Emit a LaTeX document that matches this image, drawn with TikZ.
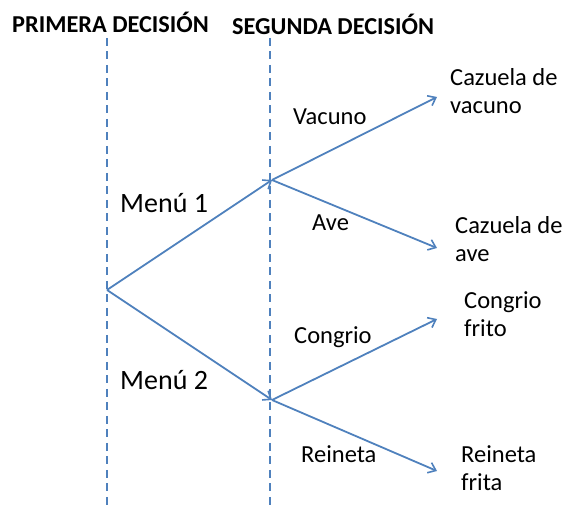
\documentclass[tikz,border=0pt]{standalone}
\usepackage{fontspec}
\setmainfont{Carlito}
\usetikzlibrary{arrows.meta}
\definecolor{offblue}{RGB}{79,129,189}
\tikzset{
  guide/.style={offblue, line width=2pt, dash pattern=on 8pt off 5.5pt},
  branch/.style={offblue, line width=1.8pt, -{Straight Barb[length=7pt,width=11pt,line width=1.6pt]}},
  header/.style={inner sep=0pt, anchor=base west, font=\fontsize{24.3}{29}\selectfont\bfseries},
  menu/.style={inner sep=0pt, anchor=base west, font=\fontsize{28}{34}\selectfont},
  lbl/.style={inner sep=0pt, anchor=base west, font=\fontsize{24.5}{29}\selectfont},
  outcome/.style={inner sep=0pt, anchor=base west, align=left, font=\fontsize{24.5}{28.5}\selectfont},
}
\begin{document}
\begin{tikzpicture}[x=1pt,y=-1pt]
\useasboundingbox (0,0) rectangle (566,510);
% guide lines
\coordinate (g1t) at (107,38);
\coordinate (g1b) at (107,510);
\coordinate (g2t) at (270,38);
\coordinate (g2b) at (270,510);
\draw[guide] (g1t) -- (g1b);
\draw[guide] (g2t) -- (g2b);
% headers
\node[header] (h1) at (12,33) {PRIMERA DECISIÓN};
\node[header] (h2) at (232,35) {SEGUNDA DECISIÓN};
% tree points
\coordinate (r) at (107,290);
\coordinate (m1) at (272,180);
\coordinate (m2) at (272,400);
\coordinate (e1) at (437,97);
\coordinate (e2) at (437,248);
\coordinate (e3) at (437,319);
\coordinate (e4) at (437,471);
\draw[branch] (r) -- (m1);
\draw[branch] (r) -- (m2);
\draw[branch] (m1) -- (e1);
\draw[branch] (m1) -- (e2);
\draw[branch] (m2) -- (e3);
\draw[branch] (m2) -- (e4);
% labels
\node[menu] (l1) at (120,213) {Menú 1};
\node[menu] (l2) at (120,390) {Menú 2};
\node[lbl] (l3) at (293,125) {Vacuno};
\node[lbl] (l4) at (312,231) {Ave};
\node[lbl] (l5) at (294,344) {Congrio};
\node[lbl] (l6) at (301,463) {Reineta};
% outcomes (base = baseline of last line)
\node[outcome] (o1) at (450,114) {Cazuela de\\vacuno};
\node[outcome] (o2) at (455,262) {Cazuela de\\ave};
\node[outcome] (o3) at (464,337) {Congrio\\frito};
\node[outcome] (o4) at (461,491) {Reineta\\frita};
\end{tikzpicture}
\end{document}
